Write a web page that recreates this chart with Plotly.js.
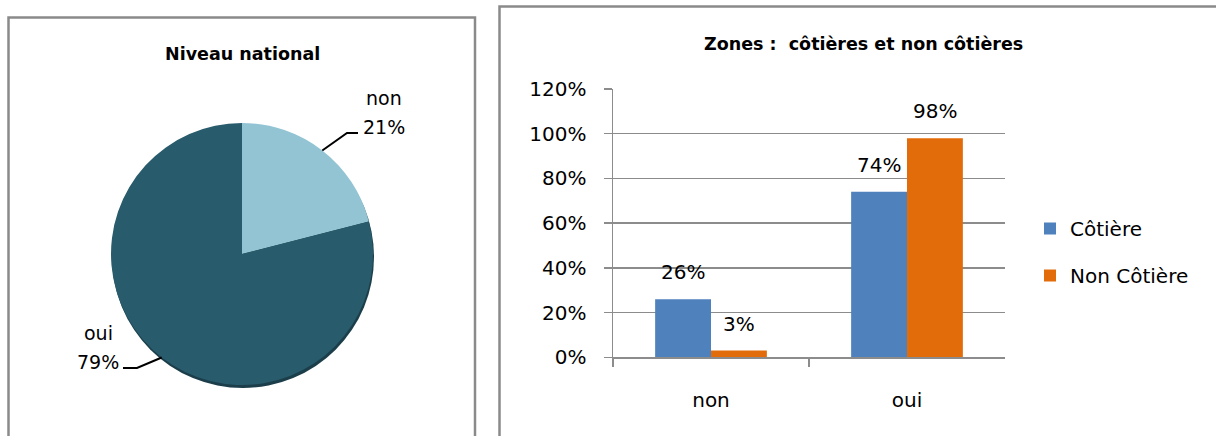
<!DOCTYPE html>
<html>
<head>
<meta charset="utf-8">
<script src="https://cdn.plot.ly/plotly-3.0.1.min.js"></script>
<style>
  html, body { margin: 0; padding: 0; background: #ffffff; }
  #chart { width: 1216px; height: 436px; }
</style>
</head>
<body>
<div id="chart"></div>
<script>
// ---- data ----
const pieLabels = ['non', 'oui'];
const pieValues = [0.21, 0.79];

const categories = ['non', 'oui'];
const seriesNames = ['Côtière', 'Non Côtière'];
const cotiere = [0.26, 0.74];
const nonCotiere = [0.03, 0.98];
const yTickValues = [0, 0.2, 0.4, 0.6, 0.8, 1.0, 1.2];

const pieTitle = 'Niveau national';
const barTitle = 'Zones :\u00a0 côtières et non côtières';

// ---- layout helpers (pixel -> paper) ----
const W = 1216, H = 436;
const px = x => x / W;
const py = y => 1 - y / H;

const FONT = 'DejaVu Sans';
const GRID = '#8c8c8c';
const BORDER = '#8a8a8a';

// pie geometry
const pieCx = 242, pieCy = 254, pieR = 131;
// bar plot area
const plotL = 613, plotR = 1005, plotT = 89, plotB = 357.3;
const bargap = 0.43;

// pie label placement (center of first text line) and leader-line elbow/end
const pieLabelPlace = [
  { x: 384, y: 98, elbow: [347, 133], end: [358, 133] },
  { x: 98,  y: 333, elbow: [137, 368], end: [123, 368] }
];

const total = pieValues.reduce((a, b) => a + b, 0);
const shapes = [];
const annotations = [];

function label(x, y, text, size, xref, yref, extra) {
  return Object.assign({
    xref: xref || 'paper', yref: yref || 'paper', x: x, y: y,
    xanchor: 'center', yanchor: 'middle', showarrow: false, text: text,
    font: { family: FONT, size: size, color: '#000' }
  }, extra || {});
}

// panel frames
shapes.push({ type: 'rect', xref: 'paper', yref: 'paper',
  x0: px(8.5), x1: px(475), y0: py(600), y1: py(17.5),
  line: { color: BORDER, width: 2.5 }, fillcolor: 'rgba(0,0,0,0)' });
shapes.push({ type: 'rect', xref: 'paper', yref: 'paper',
  x0: px(499.5), x1: px(1400), y0: py(600), y1: py(6.5),
  line: { color: BORDER, width: 2.5 }, fillcolor: 'rgba(0,0,0,0)' });

// dark rim under the pie
shapes.push({ type: 'circle', xref: 'paper', yref: 'paper', layer: 'below',
  x0: px(pieCx - pieR + 1), x1: px(pieCx + pieR + 1),
  y0: py(pieCy + pieR + 3), y1: py(pieCy - pieR + 3),
  line: { width: 0 }, fillcolor: '#1B3E4A' });

// pie labels + leader lines, positioned from each slice's mid-angle
let cum = 0;
pieValues.forEach((v, i) => {
  const frac = v / total;
  const mid = (cum + frac / 2) * 2 * Math.PI;
  cum += frac;
  const ex = pieCx + pieR * Math.sin(mid);
  const ey = pieCy - pieR * Math.cos(mid);
  const p = pieLabelPlace[i];
  shapes.push({ type: 'path', xref: 'paper', yref: 'paper',
    path: `M${px(ex)},${py(ey)} L${px(p.elbow[0])},${py(p.elbow[1])} L${px(p.end[0])},${py(p.end[1])}`,
    line: { color: '#000000', width: 2 } });
  annotations.push(label(px(p.x), py(p.y), pieLabels[i], 19));
  annotations.push(label(px(p.x), py(p.y + 29), Math.round(frac * 100) + '%', 19));
});

// titles
annotations.push(label(px(242), py(54), '<b>' + pieTitle + '</b>', 17.5));
annotations.push(label(px(863), py(44), '<b>' + barTitle + '</b>', 17.5));

// bar value labels above each bar
const catW = (plotR - plotL) / categories.length;
const barW = catW * (1 - bargap) / 2;
[cotiere, nonCotiere].forEach((series, s) => {
  const shift = (s === 0 ? -1 : 1) * barW / 2;
  series.forEach((v, i) => {
    annotations.push(label(categories[i], v, Math.round(v * 100) + '%', 20, 'x', 'y',
      { xshift: shift, yshift: 27 }));
  });
});

const traces = [
  {
    type: 'pie', labels: pieLabels, values: pieValues, sort: false,
    direction: 'clockwise', rotation: 0, textinfo: 'none', hoverinfo: 'none',
    marker: { colors: ['#92C4D4', '#285B6B'], line: { width: 0 } },
    domain: { x: [px(pieCx - pieR), px(pieCx + pieR)], y: [py(pieCy + pieR), py(pieCy - pieR)] },
    showlegend: false
  },
  {
    type: 'bar', name: seriesNames[0], x: categories, y: cotiere,
    marker: { color: '#4F81BD' }, legendgroup: 'a', hoverinfo: 'none'
  },
  {
    type: 'bar', name: seriesNames[1], x: categories, y: nonCotiere,
    marker: { color: '#E36C0A' }, legendgroup: 'b', hoverinfo: 'none'
  }
];

const layout = {
  width: W, height: H,
  margin: { l: 0, r: 0, t: 0, b: 0 },
  paper_bgcolor: '#ffffff', plot_bgcolor: '#ffffff',
  font: { family: FONT, size: 20, color: '#000' },
  barmode: 'group', bargap: bargap, bargroupgap: 0,
  xaxis: {
    domain: [px(plotL), px(plotR)], type: 'category',
    showline: true, linecolor: GRID, linewidth: 1.5,
    ticks: 'outside', tickson: 'boundaries', ticklen: 8, tickcolor: GRID, tickwidth: 1.5,
    showgrid: false, zeroline: false, ticklabelstandoff: 24,
    tickfont: { family: FONT, size: 20, color: '#000' }, fixedrange: true
  },
  yaxis: {
    domain: [py(plotB), py(plotT)], range: [0, 1.2],
    tickvals: yTickValues, tickformat: '.0%',
    showline: true, linecolor: GRID, linewidth: 1.5,
    ticks: 'outside', ticklen: 8, tickcolor: GRID, tickwidth: 1.5,
    showgrid: true, gridcolor: GRID, gridwidth: 1.5, zeroline: false,
    ticklabelstandoff: 13,
    tickfont: { family: FONT, size: 20, color: '#000' }, fixedrange: true
  },
  legend: {
    x: px(1030), y: py(252), xanchor: 'left', yanchor: 'middle',
    traceorder: 'grouped', tracegroupgap: 18,
    font: { family: FONT, size: 20, color: '#000' },
    bgcolor: 'rgba(0,0,0,0)'
  },
  shapes: shapes,
  annotations: annotations
};

Plotly.newPlot('chart', traces, layout, { displayModeBar: false, staticPlot: true });
</script>
</body>
</html>
